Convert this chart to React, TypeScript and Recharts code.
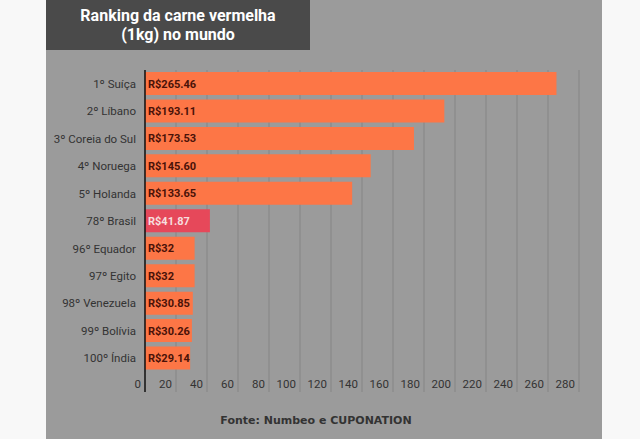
import { BarChart, Bar, XAxis, YAxis, CartesianGrid, Cell, LabelList } from 'recharts';

const countries = [
    '1º Suíça',
    '2º Líbano',
    '3º Coreia do Sul',
    '4º Noruega',
    '5º Holanda',
    '78º Brasil',
    '96º Equador',
    '97º Egito',
    '98º Venezuela',
    '99º Bolívia',
    '100º Índia',
];
const prices = [265.46, 193.11, 173.53, 145.6, 133.65, 41.87, 32, 32, 30.85, 30.26, 29.14];
const priceLabels = ['R$265.46', 'R$193.11', 'R$173.53', 'R$145.60', 'R$133.65', 'R$41.87', 'R$32', 'R$32', 'R$30.85', 'R$30.26', 'R$29.14'];
const xTicks = [0, 20, 40, 60, 80, 100, 120, 140, 160, 180, 200, 220, 240, 260, 280];
const highlight = '78º Brasil';

const chartData = countries.map((name, i) => ({ name, value: prices[i], label: priceLabels[i] }));

const FONT = 'Roboto, "Noto Sans", sans-serif';

// tick do eixo x: linha que desce abaixo do gráfico + texto alinhado à direita
function XTick(props: any) {
    const { x, y, payload } = props;
    const isZero = payload.value === 0;
    return (
        <g>
            <line x1={x} y1={y} x2={x} y2={y + 20} stroke={isZero ? '#111' : '#858585'} strokeWidth={isZero ? 1.5 : 1} />
            <text x={x - 4} y={y + 16} textAnchor="end" fontSize={11.5} fontFamily={FONT} fill="#333">
                {payload.value}
            </text>
        </g>
    );
}

function BarLabel(props: any) {
    const { x, y, height, value, index } = props;
    const isHighlight = countries[index] === highlight;
    return (
        <text
            x={x + 3}
            y={y + height / 2 + 4}
            fontSize={11}
            fontWeight="bold"
            fontFamily={FONT}
            fill={isHighlight ? '#f6dede' : '#4a1208'}
        >
            {value}
        </text>
    );
}

export default function App() {
    return (
        <div style={{ position: 'absolute', left: 0, top: 0, width: 640, height: 439, background: '#f8f8f8', overflow: 'hidden' }}>
            <div style={{ position: 'absolute', left: 46, top: 0, width: 556, height: 439, background: '#9b9b9b' }} />
            <div
                style={{
                    position: 'absolute',
                    left: 46,
                    top: 0,
                    width: 264,
                    height: 50,
                    background: '#4a4a4a',
                    color: '#fff',
                    fontFamily: FONT,
                    fontWeight: 'bold',
                    fontSize: 16,
                    lineHeight: '19px',
                    textAlign: 'center',
                    paddingTop: 6,
                    boxSizing: 'border-box',
                }}
            >
                Ranking da carne vermelha
                <br />
                (1kg) no mundo
            </div>
            <div style={{ position: 'absolute', left: 0, top: 0 }}>
                <BarChart
                    width={640}
                    height={439}
                    data={chartData}
                    layout="vertical"
                    margin={{ top: 70, right: 61, bottom: 47, left: 0 }}
                    barCategoryGap={2}
                >
                    <CartesianGrid horizontal={false} stroke="#858585" />
                    <XAxis
                        type="number"
                        domain={[0, 280]}
                        ticks={xTicks}
                        interval={0}
                        axisLine={false}
                        tickLine={false}
                        tickSize={0}
                        tickMargin={0}
                        height={20}
                        tick={<XTick />}
                    />
                    <YAxis
                        type="category"
                        dataKey="name"
                        width={145}
                        axisLine={{ stroke: '#111', strokeWidth: 1.5 }}
                        tickLine={false}
                        tickSize={0}
                        tickMargin={9}
                        tick={{ fontSize: 11.5, fill: '#333', fontFamily: FONT }}
                    />
                    <Bar dataKey="value" isAnimationActive={false}>
                        {chartData.map((d) => (
                            <Cell key={d.name} fill={d.name === highlight ? '#e6485a' : '#fd7646'} />
                        ))}
                        <LabelList dataKey="label" content={<BarLabel />} />
                    </Bar>
                </BarChart>
            </div>
            <div
                style={{
                    position: 'absolute',
                    left: 46,
                    width: 540,
                    top: 414,
                    textAlign: 'center',
                    fontFamily: '"DejaVu Sans", sans-serif',
                    fontWeight: 'bold',
                    fontSize: 11,
                    color: '#333',
                }}
            >
                Fonte: Numbeo e CUPONATION
            </div>
        </div>
    );
}
